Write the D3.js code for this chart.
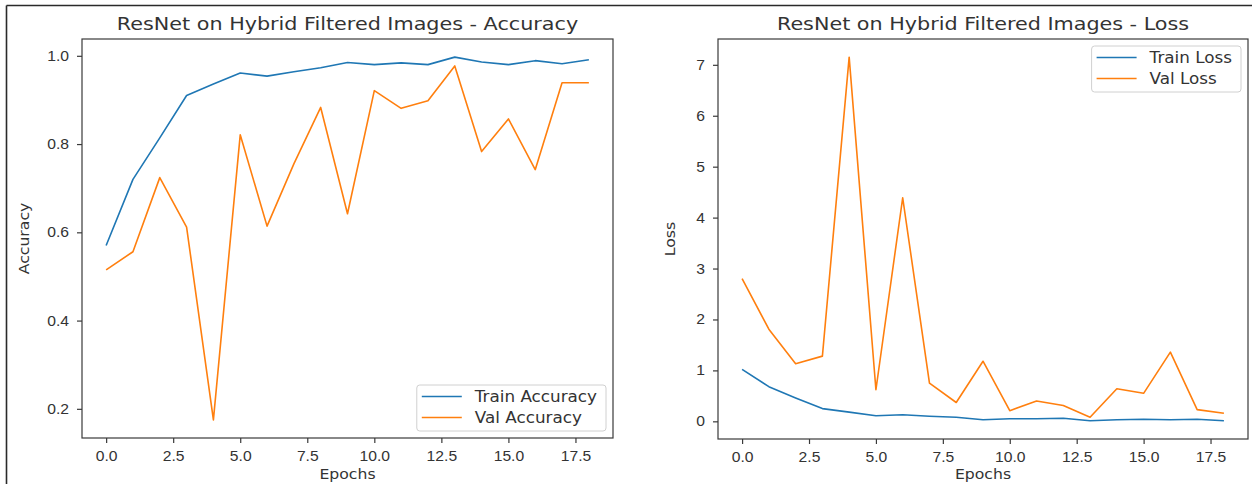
<!DOCTYPE html>
<html>
<head>
<meta charset="utf-8">
<script src="https://cdn.jsdelivr.net/npm/d3@7"></script>
<style>
  body { margin: 0; background: #fff; }
  svg { display: block; font-family: "DejaVu Sans", sans-serif; }
  .axis path, .axis line { stroke: #3a3a3a; stroke-width: 1.2; }
  .axis text { fill: #333; font-size: 14px; }
</style>
</head>
<body>
<svg id="chart" width="1252" height="484"></svg>
<script>
// values
var epochs    = [0,1,2,3,4,5,6,7,8,9,10,11,12,13,14,15,16,17,18];
var trainAcc  = [0.57,0.72,0.814,0.91,0.936,0.961,0.954,0.964,0.973,0.985,0.98,0.984,0.98,0.997,0.986,0.98,0.989,0.982,0.991];
var valAcc    = [0.515,0.556,0.724,0.612,0.175,0.821,0.614,0.755,0.883,0.642,0.921,0.881,0.898,0.977,0.783,0.857,0.742,0.939,0.939];
var trainLoss = [1.02,0.68,0.46,0.25,0.18,0.11,0.13,0.10,0.08,0.03,0.05,0.05,0.06,0.01,0.03,0.04,0.03,0.04,0.01];
var valLoss   = [2.80,1.81,1.13,1.28,7.15,0.62,4.39,0.75,0.37,1.18,0.21,0.40,0.31,0.08,0.64,0.55,1.36,0.23,0.16];
var xTicks    = [0,2.5,5,7.5,10,12.5,15,17.5];
var accTicks  = [0.2,0.4,0.6,0.8,1.0];
var lossTicks = [0,1,2,3,4,5,6,7];

var blue = "#1f77b4", orange = "#ff7f0e";
var SX = 1.12; // the picture is a little wider than tall

var svg = d3.select("#chart");

// outer frame of the picture
svg.append("line").attr("x1", 6.5).attr("y1", 5.5).attr("x2", 1252).attr("y2", 5.5)
   .attr("stroke", "#2a2a2a").attr("stroke-width", 1.6);
svg.append("line").attr("x1", 6.5).attr("y1", 5.5).attr("x2", 6.5).attr("y2", 484)
   .attr("stroke", "#2a2a2a").attr("stroke-width", 1.6);

function stretchText(sel, x, y, size, anchor, rotate) {
  var t = sel.append("text")
    .attr("font-size", size)
    .attr("fill", "#333")
    .attr("text-anchor", anchor || "middle");
  var tr = "translate(" + x + "," + y + ")";
  if (rotate) tr += " rotate(-90)";
  tr += rotate ? " scale(" + SX + ",1)" : " scale(" + SX + ",1)";
  t.attr("transform", tr);
  return t;
}

function buildPanel(opts) {
  var left = opts.left, top = 39, w = opts.w, h = opts.h;

  var x = d3.scaleLinear().domain([-0.9, 18.9]).range([left, left + w]);
  var all = opts.series[0].concat(opts.series[1]);
  var lo = d3.min(all), hi = d3.max(all), pad = (hi - lo) * 0.05;
  var y = d3.scaleLinear().domain([lo - pad, hi + pad]).range([top + h, top]);

  // frame
  svg.append("rect")
    .attr("x", left).attr("y", top).attr("width", w).attr("height", h)
    .attr("fill", "none").attr("stroke", "#3a3a3a").attr("stroke-width", 1.2);

  var xAxis = d3.axisBottom(x).tickValues(xTicks).tickFormat(d3.format(".1f"))
    .tickSize(5).tickPadding(8);
  var gx = svg.append("g").attr("class", "axis")
    .attr("transform", "translate(0," + (top + h) + ")")
    .call(xAxis);
  gx.select(".domain").remove();
  gx.selectAll("text").attr("transform", "scale(" + SX + ",1)");

  var yAxis = d3.axisLeft(y).tickValues(opts.yTicks).tickFormat(d3.format(opts.yFmt))
    .tickSize(5).tickPadding(8);
  var gy = svg.append("g").attr("class", "axis")
    .attr("transform", "translate(" + left + ",0)")
    .call(yAxis);
  gy.select(".domain").remove();
  gy.selectAll("text").attr("x", -13 / SX).attr("transform", "scale(" + SX + ",1)");

  var line = d3.line()
    .x(function(d, i) { return x(epochs[i]); })
    .y(function(d) { return y(d); });

  [blue, orange].forEach(function(c, k) {
    svg.append("path")
      .datum(opts.series[k])
      .attr("fill", "none")
      .attr("stroke", c)
      .attr("stroke-width", 1.6)
      .attr("stroke-linejoin", "round")
      .attr("d", line);
  });

  // title and axis labels
  stretchText(svg, left + w / 2, 30, 18.5).text(opts.title);
  stretchText(svg, left + w / 2, 479, 14).text("Epochs");
  stretchText(svg, opts.ylabelX, top + h / 2, 14, "middle", true).text(opts.ylabel);

  // legend
  var lg = svg.append("g");
  var box = lg.append("rect").attr("rx", 3)
    .attr("fill", "#fff").attr("fill-opacity", 0.8)
    .attr("stroke", "#d0d0d0").attr("stroke-width", 1);
  var texts = [];
  opts.legend.forEach(function(name, k) {
    var t = lg.append("text").attr("font-size", 15).attr("fill", "#333")
      .attr("transform", "translate(0," + (k * 21 + 5) + ") scale(" + SX + ",1)")
      .text(name);
    texts.push(t);
  });
  var tw = d3.max(texts, function(t) { return t.node().getComputedTextLength() * SX; });
  var bw = 5 + 40 + 13 + tw + 9, bh = 46;
  var bx = left + w - 7 - bw;
  var by = opts.legendTop ? top + 7 : top + h - 7 - bh;
  box.attr("x", bx).attr("y", by).attr("width", bw).attr("height", bh);
  opts.legend.forEach(function(name, k) {
    var ry = by + 11.5 + k * 21;
    lg.append("line").attr("x1", bx + 5).attr("x2", bx + 45)
      .attr("y1", ry).attr("y2", ry)
      .attr("stroke", k ? orange : blue).attr("stroke-width", 1.6);
    texts[k].attr("transform", "translate(" + (bx + 58) + "," + (ry + 5.5) + ") scale(" + SX + ",1)");
  });
}

buildPanel({
  left: 82, w: 531, h: 399,
  series: [trainAcc, valAcc],
  yTicks: accTicks, yFmt: ".1f",
  title: "ResNet on Hybrid Filtered Images - Accuracy",
  ylabel: "Accuracy", ylabelX: 29,
  legend: ["Train Accuracy", "Val Accuracy"], legendTop: false
});

buildPanel({
  left: 718, w: 530, h: 400,
  series: [trainLoss, valLoss],
  yTicks: lossTicks, yFmt: "d",
  title: "ResNet on Hybrid Filtered Images - Loss",
  ylabel: "Loss", ylabelX: 675,
  legend: ["Train Loss", "Val Loss"], legendTop: true
});
</script>
</body>
</html>
